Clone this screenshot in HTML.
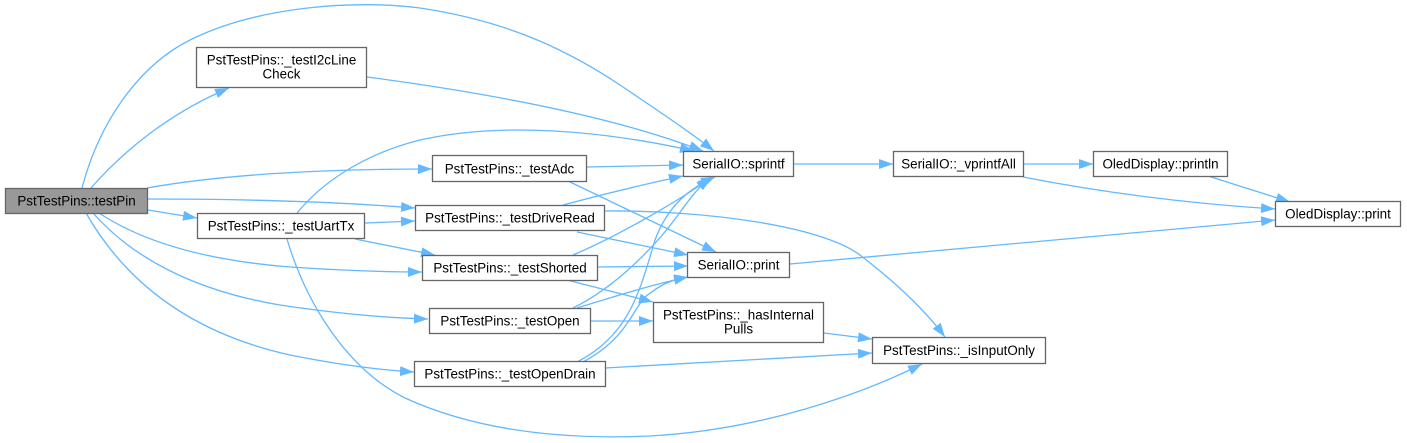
<!DOCTYPE html>
<html>
<head>
<meta charset="utf-8">
<style>
html,body{margin:0;padding:0;background:#fff;}
svg{display:block;}
text{font-family:"Liberation Sans",Arial,sans-serif;font-size:13.4px;fill:#000;text-anchor:middle;}
.e{fill:none;stroke:#63b8ff;stroke-width:1.3;marker-end:url(#a);}
.n{fill:#fff;stroke:#666;stroke-width:1.3;}
</style>
</head>
<body>
<svg width="1407" height="443" viewBox="0 0 1407 443" xmlns="http://www.w3.org/2000/svg">
<defs>
<marker id="a" markerWidth="15" markerHeight="11" refX="14" refY="5" orient="auto" markerUnits="userSpaceOnUse">
<path d="M0,0 L14,5 L0,10 z" fill="#63b8ff"/>
</marker>
</defs>

<!-- edges -->
<path class="e" d="M82,188 C100,120 140,65 190,40 C260,5 360,0 420,8 C500,20 560,45 620,85 C660,112 690,132 714,151"/>
<path class="e" d="M91,188 C120,155 165,115 229,88"/>
<path class="e" d="M367,77 C480,92 610,115 703,151"/>
<path class="e" d="M147,188 C220,175 320,169 432,169"/>
<path class="e" d="M148,199 C250,199 340,202 415,208"/>
<path class="e" d="M148,210 L197,218"/>
<path class="e" d="M365,223 L415,221"/>
<path class="e" d="M355,239 L435,255"/>
<path class="e" d="M297,213 C320,185 360,155 420,140 C500,122 600,130 694,151"/>
<path class="e" d="M287,239 C305,300 345,368 405,398 C475,430 560,440 650,436 C760,430 860,395 922,364"/>
<path class="e" d="M99,213 C140,240 200,260 290,267 C350,271 390,272 422,272"/>
<path class="e" d="M93,213 C130,255 190,290 280,305 C340,314 390,318 428,319"/>
<path class="e" d="M86,213 C130,290 200,335 290,355 C340,365 380,370 414,372"/>
<path class="e" d="M573,255 C620,235 680,200 712,177"/>
<path class="e" d="M597,267 L688,266"/>
<path class="e" d="M567,280 L653,302"/>
<path class="e" d="M587,167 L683,165"/>
<path class="e" d="M568,181 L716,252"/>
<path class="e" d="M563,205 C600,195 650,183 683,176"/>
<path class="e" d="M577,232 L688,255"/>
<path class="e" d="M605,211 C700,210 820,225 860,255 C895,282 925,310 945,337"/>
<path class="e" d="M573,308 C620,285 660,240 678,215 C690,198 700,186 710,177"/>
<path class="e" d="M577,308 C610,298 650,285 688,277"/>
<path class="e" d="M591,321 L653,321"/>
<path class="e" d="M577,362 C630,335 640,290 655,240 C668,205 690,188 715,177"/>
<path class="e" d="M583,362 C625,340 633,310 645,297 C660,285 670,280 688,277"/>
<path class="e" d="M605,368 L872,353"/>
<path class="e" d="M824,333 L872,339"/>
<path class="e" d="M794,164 L893,164"/>
<path class="e" d="M1024,164 L1093,164"/>
<path class="e" d="M1023,177 C1100,192 1180,203 1275,209"/>
<path class="e" d="M1208,176 L1290,202"/>
<path class="e" d="M790,264 L1275,220"/>

<!-- nodes -->
<rect x="5.5" y="188.5" width="142" height="25" fill="#999999" stroke="#666" stroke-width="1.3"/>
<text x="76.5" y="205.5">PstTestPins::testPin</text>

<rect class="n" x="196.5" y="47.5" width="170" height="40"/>
<text x="281.5" y="64.5">PstTestPins::_testI2cLine</text>
<text x="281.5" y="78.5">Check</text>

<rect class="n" x="197.5" y="213.5" width="167" height="25"/>
<text x="281" y="230.5">PstTestPins::_testUartTx</text>

<rect class="n" x="432.5" y="155.5" width="154" height="26"/>
<text x="509.5" y="173.5">PstTestPins::_testAdc</text>

<rect class="n" x="415.5" y="205.5" width="189" height="25"/>
<text x="510" y="222.5">PstTestPins::_testDriveRead</text>

<rect class="n" x="422.5" y="255.5" width="175" height="25"/>
<text x="510" y="272.5">PstTestPins::_testShorted</text>

<rect class="n" x="429.5" y="308.5" width="161" height="25"/>
<text x="510" y="325.5">PstTestPins::_testOpen</text>

<rect class="n" x="414.5" y="361.5" width="191" height="25"/>
<text x="510" y="378.5">PstTestPins::_testOpenDrain</text>

<rect class="n" x="683.5" y="151.5" width="110" height="25"/>
<text x="738.5" y="168.5">SerialIO::sprintf</text>

<rect class="n" x="687.5" y="252.5" width="102" height="25"/>
<text x="738.5" y="269.5">SerialIO::print</text>

<rect class="n" x="653.5" y="302.5" width="170" height="40"/>
<text x="738.5" y="319.5">PstTestPins::_hasInternal</text>
<text x="738.5" y="333.5">Pulls</text>

<rect class="n" x="893.5" y="151.5" width="130" height="25"/>
<text x="958.5" y="168.5">SerialIO::_vprintfAll</text>

<rect class="n" x="1093.5" y="151.5" width="134" height="25"/>
<text x="1160.5" y="168.5">OledDisplay::println</text>

<rect class="n" x="1275.5" y="201.5" width="125" height="25"/>
<text x="1338" y="218.5">OledDisplay::print</text>

<rect class="n" x="872.5" y="337.5" width="173" height="26"/>
<text x="959" y="355">PstTestPins::_isInputOnly</text>
</svg>
</body>
</html>
